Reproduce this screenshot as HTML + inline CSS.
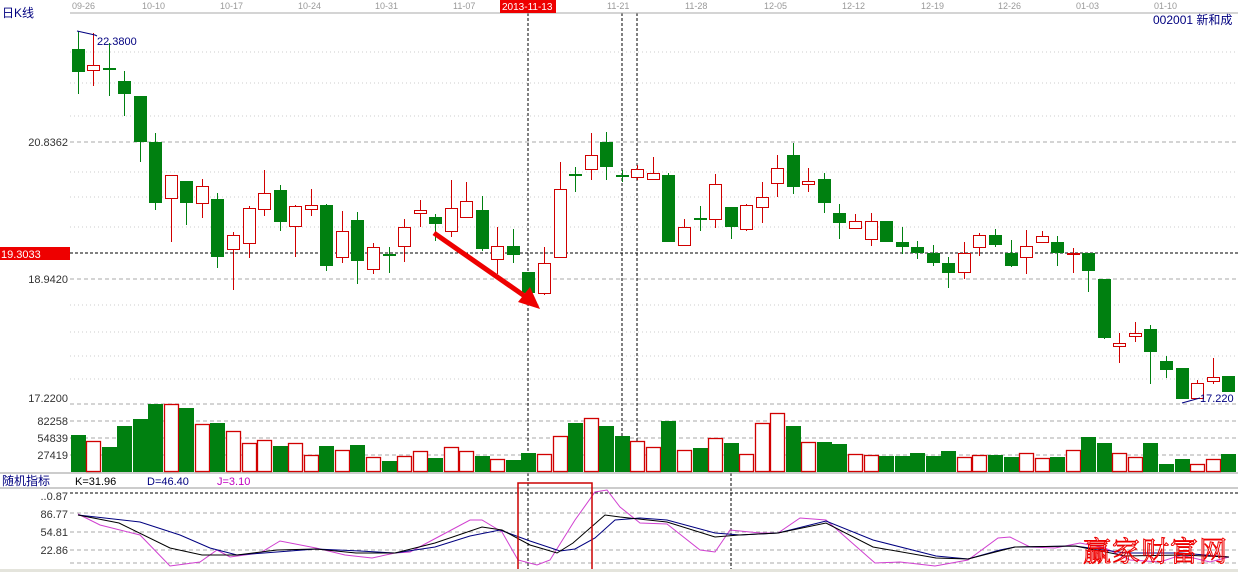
<!DOCTYPE html>
<html><head><meta charset="utf-8"><style>
html,body{margin:0;padding:0;background:#fff;width:1238px;height:572px;overflow:hidden}
svg{display:block;font-family:"Liberation Sans","Noto Sans CJK SC",sans-serif}
</style></head><body>
<svg id="s" width="1238" height="572" xmlns="http://www.w3.org/2000/svg">
<rect width="1238" height="572" fill="#fff"/>
<g id="grid"></g>
<line x1="70" y1="13" x2="1238" y2="13" stroke="#aaa"/>
<g font-size="9" fill="#999">
<text x="72" y="9">09-26</text><text x="142" y="9">10-10</text><text x="220" y="9">10-17</text><text x="298" y="9">10-24</text><text x="375" y="9">10-31</text><text x="453" y="9">11-07</text><text x="607" y="9">11-21</text><text x="685" y="9">11-28</text><text x="764" y="9">12-05</text><text x="842" y="9">12-12</text><text x="921" y="9">12-19</text><text x="998" y="9">12-26</text><text x="1076" y="9">01-03</text><text x="1154" y="9">01-10</text>
</g>
<rect x="500" y="0" width="56" height="13" fill="#e00"/>
<text x="502" y="10" font-size="10" fill="#fff">2013-11-13</text>
<text x="2" y="17" font-size="12" fill="#000080">日K线</text>
<text x="1153" y="24" font-size="12" fill="#000080">002001  新和成</text>
<g font-size="11" fill="#333" text-anchor="end">
<text x="68" y="146">20.8362</text><text x="68" y="283">18.9420</text><text x="68" y="402">17.2200</text>
<text x="68" y="425">82258</text><text x="68" y="442">54839</text><text x="68" y="459">27419</text>
<text x="68" y="500">..0.87</text><text x="68" y="518">86.77</text><text x="68" y="536">54.81</text><text x="68" y="554">22.86</text>
</g>
<rect x="0" y="247" width="70" height="13" fill="#e00"/>
<text x="1" y="258" font-size="11" fill="#fff">19.3033</text>
<g id="c"></g>
<polyline points="77,31 95,35 97,36" fill="none" stroke="#000080"/>
<text x="97" y="45" font-size="11" fill="#000080">22.3800</text>
<polyline points="1182,403 1200,398" fill="none" stroke="#000080"/>
<text x="1200" y="402" font-size="11" fill="#000080">17.220</text>
<line x1="434" y1="233" x2="526" y2="297" stroke="#e00" stroke-width="5"/>
<polygon points="540,309 518,302 530,287" fill="#e00"/>
<line x1="0" y1="473" x2="1238" y2="473" stroke="#999"/>
<text x="2" y="485" font-size="12" fill="#000080">随机指标</text>
<text x="75" y="485" font-size="11" fill="#000">K=31.96</text>
<text x="147" y="485" font-size="11" fill="#000080">D=46.40</text>
<text x="217" y="485" font-size="11" fill="#c000c0">J=3.10</text>
<line x1="0" y1="488" x2="1238" y2="488" stroke="#999"/>
<line x1="70" y1="493" x2="1238" y2="493" stroke="#000" stroke-dasharray="3,2"/>
<g id="k"></g>
<rect x="518" y="483" width="74" height="87" fill="none" stroke="#c00" stroke-width="1.5"/>
<rect x="0" y="569" width="1238" height="3" fill="#e4e4dc"/>
<text x="1083" y="561" font-size="28" fill="none" stroke="#e00" stroke-width="1" font-family="'Noto Serif CJK SC',serif" letter-spacing="1">赢家财富网</text>
</svg>
<script>
var NS="http://www.w3.org/2000/svg";
function el(p,t,a){var e=document.createElementNS(NS,t);for(var k in a)e.setAttribute(k,a[k]);p.appendChild(e);return e;}
var g=document.getElementById('grid');
[52,83,116,172,197,227,305,332,356,379].forEach(function(y){el(g,'line',{x1:70,y1:y,x2:1238,y2:y,stroke:'#ccc','stroke-dasharray':'1,3'});});
[142,279,404,421,438,455,513,532,550,563].forEach(function(y){el(g,'line',{x1:70,y1:y,x2:1238,y2:y,stroke:'#aaa','stroke-dasharray':'4,3'});});
el(g,'line',{x1:0,y1:253,x2:1238,y2:253,stroke:'#000','stroke-dasharray':'3,2'});
el(g,'line',{x1:528,y1:13,x2:528,y2:570,stroke:'#000','stroke-dasharray':'3,2'});
el(g,'line',{x1:622,y1:13,x2:622,y2:472,stroke:'#000','stroke-dasharray':'3,2'});
el(g,'line',{x1:637,y1:13,x2:637,y2:472,stroke:'#000','stroke-dasharray':'3,2'});
el(g,'line',{x1:731,y1:473,x2:731,y2:570,stroke:'#000','stroke-dasharray':'3,2'});
var d=[
['g',49,72,31,94,435],['r',65,70,33,86,441],['g',68,70,43,96,447],['g',81,94,71,116,426],['g',96,142,96,162,419],
['g',142,203,133,210,404],['r',175,198,175,242,404],['g',181,203,181,225,408],['r',186,203,179,218,424],['g',199,257,193,268,423],
['r',235,249,232,290,431],['r',208,243,206,258,443],['r',193,209,170,216,440],['g',190,222,185,231,446],['r',206,226,205,257,443],
['r',205,209,189,216,455],['g',205,266,204,271,446],['r',231,257,211,263,450],['g',220,261,212,284,445],['r',247,269,243,274,457],
['g',254,256,247,273,461],['r',227,246,219,262,456],['r',210,213,200,227,451],['g',217,224,214,241,458],['r',208,231,180,237,447],
['r',201,217,182,218,451],['g',210,249,196,251,456],['r',246,259,227,274,459],['g',246,255,229,263,460],['g',272,293,272,296,453],
['r',263,293,247,295,454],['r',189,257,162,257,436],['g',174,176,167,192,423],['r',155,169,133,180,418],['g',142,167,132,180,426],
['g',175,177,170,182,436],['r',169,177,165,180,441],['r',173,179,157,180,447],['g',175,242,173,242,421],['r',227,245,219,246,450],
['g',218,220,206,231,448],['r',184,219,174,228,438],['g',207,227,207,239,443],['r',205,229,204,231,454],['r',197,207,182,223,423],
['r',168,183,155,197,413],['g',155,187,143,194,426],['r',181,184,168,192,442],['g',179,203,173,213,442],['g',213,223,204,239,444],
['r',221,228,214,229,454],['r',221,239,213,246,455],['g',221,242,221,242,456],['g',242,247,227,254,456],['g',247,253,241,259,453],
['g',253,263,245,266,456],['g',263,273,257,288,451],['r',253,272,242,279,457],['r',235,247,233,256,455],['g',235,245,229,247,455],
['g',253,266,240,267,457],['r',246,257,230,274,453],['r',236,242,231,243,458],['g',242,253,236,266,457],['r',253,254,248,273,450],
['g',253,271,253,292,437],['g',279,338,279,339,443],['r',343,346,333,363,453],['r',333,336,322,342,457],['g',329,352,325,384,443],
['g',361,370,356,378,464],['g',368,399,368,399,459],['r',383,398,380,398,464],['r',377,381,358,384,459],['g',376,392,376,392,454]];
var c=document.getElementById('c');
d.forEach(function(a,i){var x=Math.round(77.5+15.55*i);var G='#008010',R='#d00000';
 var col=a[0]=='g'?G:R;
 var bh=Math.max(a[2]-a[1],1);
 if(a[0]=='g'){el(c,'line',{x1:x+.5,y1:a[3],x2:x+.5,y2:a[4],stroke:col});el(c,'rect',{x:x-6,y:a[1],width:13,height:Math.max(bh,2),fill:col});
  el(c,'rect',{x:x-7,y:a[5],width:15,height:472-a[5],fill:col});}
 else{el(c,'line',{x1:x+.5,y1:a[3],x2:x+.5,y2:a[1],stroke:col});el(c,'line',{x1:x+.5,y1:a[2],x2:x+.5,y2:a[4],stroke:col});
  el(c,'rect',{x:x-5.5,y:a[1]+.5,width:12,height:Math.max(bh,1),fill:'#fff',stroke:col});
  el(c,'rect',{x:x-6.5,y:a[5]+.5,width:14,height:471-a[5],fill:'#fff',stroke:col,'stroke-width':1.3});}
});
var K=[[78,515],[119,523],[170,548],[202,555],[237,555],[277,550],[316,549],[356,553],[395,553],[435,543],[482,527],[502,530],[530,545],[557,553],[573,543],[605,515],[620,517],[667,522],[715,537],[739,535],[778,533],[826,523],[873,547],[936,558],[968,559],[1015,547],[1075,546],[1126,556],[1181,555],[1229,557]];
var D=[[78,515],[140,522],[180,535],[210,548],[237,555],[277,552],[316,549],[360,551],[395,553],[435,547],[470,536],[500,530],[530,541],[560,551],[575,549],[595,538],[615,520],[640,518],[667,520],[715,533],[740,535],[778,533],[826,521],[873,540],[936,556],[968,559],[1000,550],[1015,547],[1075,546],[1126,553],[1181,553],[1229,557]];
var J=[[78,514],[100,525],[140,535],[170,566],[200,562],[217,550],[230,557],[260,553],[280,541],[316,548],[345,555],[372,558],[395,553],[410,552],[440,536],[470,520],[482,520],[502,532],[518,560],[537,565],[550,560],[575,520],[595,492],[607,490],[620,507],[640,523],[667,524],[700,550],[715,552],[730,530],[760,533],[778,533],[800,518],[826,520],[875,563],[900,562],[935,566],[968,560],[998,538],[1010,537],[1030,547],[1055,548],[1080,543],[1105,548],[1130,560],[1160,562],[1181,555],[1210,562],[1229,557]];
var k=document.getElementById('k');
function pl(p,c){el(k,'polyline',{points:p.map(function(q){return q.join(',')}).join(' '),fill:'none',stroke:c,'stroke-width':1});}
pl(J,'#d040d0');pl(D,'#000080');pl(K,'#000');
</script>
</body></html>
